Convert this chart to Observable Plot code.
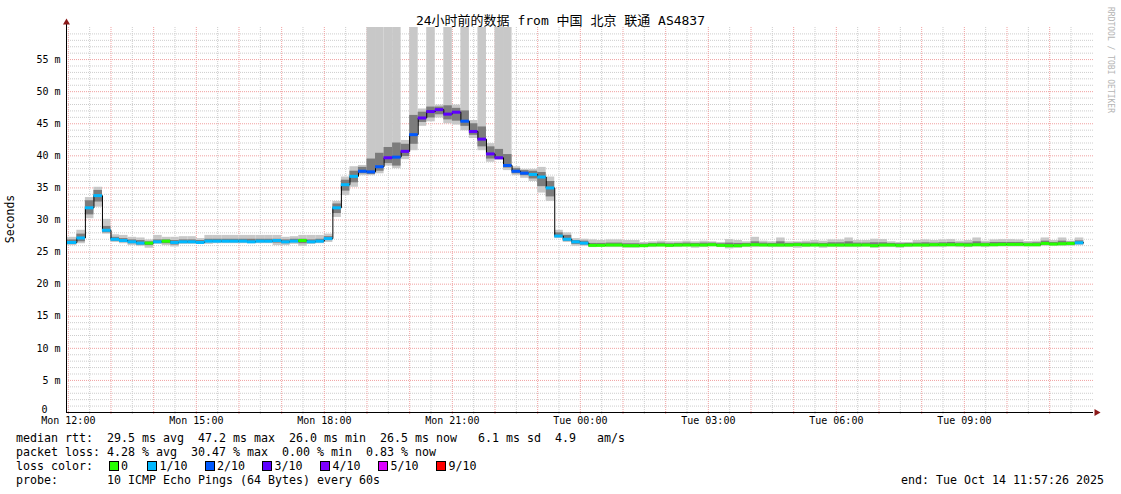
<!DOCTYPE html>
<html>
<head>
<meta charset="utf-8">
<script src="https://cdn.jsdelivr.net/npm/d3@7"></script>
<script src="https://cdn.jsdelivr.net/npm/@observablehq/plot@0.6"></script>
<style>
  body { margin: 0; background: #fff; }
  #wrap { position: relative; width: 1121px; height: 494px; overflow: hidden; background: #fff;
          font-family: "DejaVu Sans Mono", "Noto Sans CJK SC", monospace; color: #000; }
  #title { position: absolute; top: 13px; left: 0; width: 1121px; text-align: center;
           font-size: 13px; line-height: 16px; white-space: pre; }
  #ylab { position: absolute; left: 10px; top: 219px; transform: translate(-50%, -50%) rotate(-90deg);
          font-size: 11.5px; white-space: pre; }
  #wm { position: absolute; left: 1110px; top: 60px; transform: translate(-50%, -50%) rotate(90deg);
        font-size: 8px; color: #b4b4b4; white-space: pre; }
  #chart { position: absolute; left: 0; top: 0; }
  .lg { position: absolute; font-size: 11.63px; line-height: 14px; white-space: pre; }
  .box { position: absolute; width: 8px; height: 8px; border: 1px solid #000; }
</style>
</head>
<body>
<div id="wrap">
  <div id="chart"></div>
  <div id="title"></div>
  <div id="ylab">Seconds</div>
  <div id="wm">RRDTOOL / TOBI OETIKER</div>
  <div id="legend"></div>
</div>
<script>
// ---------------- data ----------------
const titleText = "24小时前的数据 from 中国 北京 联通 AS4837";
const xTickHours = [0, 3, 6, 9, 12, 15, 18, 21];
const xTickLabels = ["Mon 12:00", "Mon 15:00", "Mon 18:00", "Mon 21:00", "Tue 00:00", "Tue 03:00", "Tue 06:00", "Tue 09:00"];
const yTickValues = [0, 5, 10, 15, 20, 25, 30, 35, 40, 45, 50, 55];
const yTickLabels = ["0", "5 m", "10 m", "15 m", "20 m", "25 m", "30 m", "35 m", "40 m", "45 m", "50 m", "55 m"];

const lossLevels = [0, 1, 2, 3, 4, 5, 9];
const lossLabels = ["0", "1/10", "2/10", "3/10", "4/10", "5/10", "9/10"];
const lossColors = ["#26ff00", "#00b8ff", "#0059ff", "#5e00ff", "#7e00ff", "#dd00ff", "#ff0000"];

// 12-minute steps starting Mon 12:00 (ms)
const median = [
  26.5,27.2,31.9,33.8,28.4,27.0,26.8,26.6,26.4,26.4,
  26.6,26.7,26.5,26.6,26.6,26.5,26.7,26.7,26.7,26.7,
  26.7,26.6,26.7,26.7,26.8,26.6,26.7,26.8,26.6,26.7,
  27.1,31.9,35.5,36.8,37.6,37.5,38.3,39.7,39.8,40.7,
  43.3,45.9,46.9,47.2,46.5,46.8,45.4,43.8,42.6,40.3,
  39.7,38.5,37.6,37.3,37.1,36.7,35.0,27.5,27.0,26.6,
  26.4,26.05,26.05,26.1,26.1,26.0,26.0,26.0,26.1,26.1,
  26.05,26.1,26.1,26.1,26.1,26.15,26.05,26.0,26.0,26.1,
  26.15,26.1,26.1,26.1,26.1,26.15,26.1,26.1,26.1,26.1,
  26.1,26.1,26.1,26.1,26.0,26.1,26.1,26.05,26.1,26.1,
  26.1,26.15,26.15,26.15,26.15,26.1,26.15,26.15,26.15,26.2,
  26.2,26.2,26.15,26.15,26.35,26.25,26.3,26.35,26.45
];
// lost pings out of 10
const loss = [
  1,1,1,1,1,1,1,1,1,0,
  1,0,1,1,1,1,1,1,1,1,
  1,1,1,1,1,1,1,0,1,1,
  1,1,1,1,2,2,2,3,2,3,
  2,3,3,3,3,3,2,3,3,3,
  3,2,2,2,1,1,1,1,1,1,
  1,0,0,0,0,0,0,0,0,0,
  0,0,0,0,0,0,0,0,0,0,
  0,0,0,0,0,0,0,0,0,0,
  0,0,0,0,0,0,0,0,0,0,
  0,0,0,0,0,0,0,0,0,0,
  0,0,0,0,0,0,0,0,1
];
// smoke: outer range (min / max ping)
const smokeLo = [
  26.0,26.3,30.2,32.0,27.8,26.5,26.3,26.0,25.9,25.6,
  26.2,26.0,25.8,26.2,26.2,26.2,26.2,26.3,26.3,26.3,
  26.3,26.3,26.3,26.3,26.0,26.0,26.2,25.9,26.2,26.3,
  26.5,30.4,33.8,35.1,36.9,36.9,37.2,38.4,38.0,39.4,
  40.8,44.6,45.3,45.9,45.0,44.8,43.9,42.7,40.8,39.0,
  39.3,37.7,36.9,36.5,36.0,34.2,32.9,27.1,26.5,25.9,
  25.9,25.7,25.8,25.7,25.7,25.6,25.6,25.7,25.7,25.8,
  25.7,25.7,25.8,25.6,25.7,25.8,25.7,25.5,25.6,25.7,
  25.7,25.8,25.7,25.7,25.7,25.6,25.7,25.8,25.6,25.7,
  25.7,25.7,25.7,25.8,25.6,25.7,25.7,25.6,25.7,25.8,
  25.7,25.7,25.7,25.8,25.7,25.7,25.8,25.7,25.8,25.8,
  25.8,25.8,25.8,25.8,25.9,25.9,25.9,25.9,26.0
];
const smokeHi = [
  27.3,28.4,33.5,35.1,30.1,27.7,27.6,27.3,27.2,26.9,
  27.6,27.3,27.3,27.4,27.4,27.1,27.6,27.6,27.6,27.6,
  27.6,27.6,27.6,27.6,27.6,27.3,27.4,27.6,27.6,27.6,
  27.8,32.9,36.7,38.3,38.5,70,70,70,70,42.4,
  70,47.3,70,47.9,70,47.9,70,45.5,70,41.9,
  70,70,38.3,37.9,37.9,38.2,36.7,28.4,28.0,27.1,
  27.0,26.9,26.8,26.9,26.9,26.8,26.8,26.5,26.6,26.7,
  26.6,26.6,26.7,26.6,26.7,26.6,26.5,26.95,26.8,26.6,
  27.3,26.7,26.6,27.2,26.6,26.6,26.7,26.8,26.7,26.9,
  26.9,27.2,26.8,26.8,27.0,26.95,26.6,26.5,26.5,26.8,
  26.9,26.8,26.9,26.95,26.7,26.8,27.2,26.7,26.9,26.95,
  26.95,26.9,26.65,26.7,27.2,26.8,27.2,26.7,27.2
];
// smoke: dense inner range
const innerLo = [
  26.2,26.6,30.8,32.8,28.0,26.7,26.5,26.3,26.1,26.0,
  26.4,26.3,26.1,26.4,26.4,26.4,26.5,26.5,26.5,26.5,
  26.5,26.4,26.5,26.5,26.4,26.3,26.5,26.3,26.4,26.5,
  26.8,31.0,34.5,35.8,37.2,37.1,37.6,38.8,38.4,39.9,
  41.8,45.2,45.9,46.4,45.6,45.4,44.6,43.2,41.4,39.5,
  39.5,38.1,37.2,36.9,36.4,35.2,33.6,27.3,26.7,26.2,
  26.1,25.85,25.9,25.9,25.9,25.8,25.8,25.85,25.9,25.9,
  25.85,25.9,25.9,25.9,25.9,25.95,25.85,25.75,25.8,25.9,
  25.95,25.9,25.9,25.9,25.9,25.9,25.9,25.9,25.85,25.9,
  25.9,25.9,25.9,25.95,25.8,25.9,25.9,25.85,25.9,25.95,
  25.9,25.95,25.95,25.95,25.95,25.9,25.95,25.95,25.95,26.0,
  26.0,26.0,25.95,25.95,26.1,26.05,26.1,26.1,26.2
];
const innerHi = [
  26.9,27.8,33.0,34.6,29.0,27.3,27.1,26.9,26.8,26.6,
  26.9,26.9,26.8,26.9,26.9,26.8,27.0,27.0,27.0,27.0,
  27.0,27.0,27.0,27.0,27.0,26.9,27.0,27.0,26.9,27.0,
  27.4,32.5,36.2,37.6,38.2,39.5,40.4,41.3,42.0,41.8,
  46.3,46.8,47.6,47.6,47.8,47.4,47.0,45.0,44.5,41.4,
  41.0,40.2,38.0,37.7,37.6,37.4,36.0,28.0,27.6,26.8,
  26.7,26.35,26.35,26.4,26.4,26.3,26.3,26.25,26.35,26.4,
  26.3,26.35,26.4,26.35,26.4,26.4,26.3,26.4,26.35,26.35,
  26.6,26.4,26.35,26.6,26.35,26.4,26.4,26.4,26.35,26.45,
  26.45,26.6,26.4,26.4,26.45,26.45,26.35,26.3,26.35,26.4,
  26.45,26.4,26.45,26.5,26.4,26.4,26.6,26.4,26.5,26.5,
  26.5,26.5,26.4,26.45,26.7,26.5,26.7,26.55,26.75
];

const statsRtt = "median rtt:  29.5 ms avg  47.2 ms max  26.0 ms min  26.5 ms now   6.1 ms sd  4.9   am/s";
const statsLoss = "packet loss: 4.28 % avg  30.47 % max  0.00 % min  0.83 % now";
const lossTitle = "loss color:";
const probeText = "probe:       10 ICMP Echo Pings (64 Bytes) every 60s";
const endText = "end: Tue Oct 14 11:57:26 2025";

// ---------------- chart ----------------
const stepHours = 0.2;                 // 12 minutes
const xStart = -(2 * 60 + 34) / 3600;  // 11:57:26
const xEnd = 24.027;
const colorOf = l => lossColors[lossLevels.indexOf(l)];

const rows = median.map((m, i) => ({
  x1: i === 0 ? xStart : i * stepHours,
  x2: (i + 1) * stepHours,
  median: m, loss: loss[i],
  lo: smokeLo[i], hi: smokeHi[i], ilo: innerLo[i], ihi: innerHi[i]
}));
const linePts = rows.map(r => ({x: r.x1, y: r.median}))
  .concat([{x: rows[rows.length - 1].x2, y: rows[rows.length - 1].median}]);

const gridMinor = "#cdcdcd", gridMajor = "#f0a0a0";

const chart = Plot.plot({
  width: 1121, height: 430,
  marginLeft: 66, marginRight: 28, marginTop: 27, marginBottom: 18,
  x: {domain: [xStart, xEnd], axis: null},
  y: {domain: [0, 60], axis: null, clamp: true},
  color: {type: "identity"},
  style: {fontFamily: "DejaVu Sans Mono", fontSize: "10px", background: "white", color: "black", overflow: "visible"},
  marks: [
    Plot.ruleX(d3.range(0.5, 24, 1), {stroke: gridMinor, strokeDasharray: "1,1", insetBottom: -3}),
    Plot.ruleY(d3.range(1, 60).filter(v => v % 5 !== 0), {stroke: gridMinor, strokeDasharray: "1,1"}),
    Plot.ruleX(d3.range(0, 24, 1), {stroke: gridMajor, strokeDasharray: "1,1", insetBottom: -3}),
    Plot.ruleY(d3.range(5, 60, 5), {stroke: gridMajor, strokeDasharray: "1,1"}),
    Plot.rect(rows, {x1: "x1", x2: "x2", y1: "lo", y2: "hi", fill: "#c8c8c8"}),
    Plot.rect(rows, {x1: "x1", x2: "x2", y1: "ilo", y2: "ihi", fill: "#7c7c7c"}),
    Plot.line(linePts, {x: "x", y: "y", curve: "step-after", stroke: "#000", strokeWidth: 1}),
    Plot.ruleY(rows, {y: "median", x1: "x1", x2: "x2", stroke: d => colorOf(d.loss), strokeWidth: 3}),
    Plot.ruleY([0], {stroke: "#000"}),
    Plot.ruleX([xStart], {stroke: "#000", insetTop: -5}),
    Plot.dot([{x: xEnd, y: 0}], {x: "x", y: "y", symbol: "triangle", rotate: 90, r: 2.6, fill: "#8b1a1a", dx: 3}),
    Plot.dot([{x: xStart, y: 60}], {x: "x", y: "y", symbol: "triangle", r: 2.6, fill: "#8b1a1a", dy: -5}),
    Plot.text(xTickHours, {x: d => d, text: (d, i) => xTickLabels[i], frameAnchor: "bottom", dy: 11, fontSize: 10}),
    Plot.text(yTickValues.filter(v => v !== 0), {y: d => d, text: d => yTickLabels[yTickValues.indexOf(d)],
      frameAnchor: "left", textAnchor: "end", dx: -6, fontSize: 10}),
    Plot.text(yTickValues.filter(v => v === 0), {y: d => d, text: d => yTickLabels[yTickValues.indexOf(d)],
      frameAnchor: "left", textAnchor: "end", dx: -19, dy: -3, fontSize: 10})
  ]
});
document.getElementById("chart").appendChild(chart);
document.getElementById("title").textContent = titleText;

// ---------------- legend ----------------
const wrap = document.getElementById("legend");
function put(text, x, yc) {
  const s = document.createElement("div");
  s.className = "lg";
  s.textContent = text;
  s.style.left = x + "px";
  s.style.top = (yc - 7) + "px";
  wrap.appendChild(s);
  return s;
}
put(statsRtt, 16, 438);
put(statsLoss, 16, 452);
put(lossTitle, 16, 466);
const boxX = [108.5, 147, 204.5, 262, 320, 378, 436];
lossLabels.forEach((lab, i) => {
  const b = document.createElement("div");
  b.className = "box";
  b.style.left = boxX[i] + "px";
  b.style.top = (466 - 5) + "px";
  b.style.background = lossColors[i];
  wrap.appendChild(b);
  put(lab, boxX[i] + 12.5, 466);
});
put(probeText, 16, 480);
const e = put(endText, 0, 480);
e.style.left = "auto";
e.style.right = (1121 - 1104) + "px";
</script>
</body>
</html>
